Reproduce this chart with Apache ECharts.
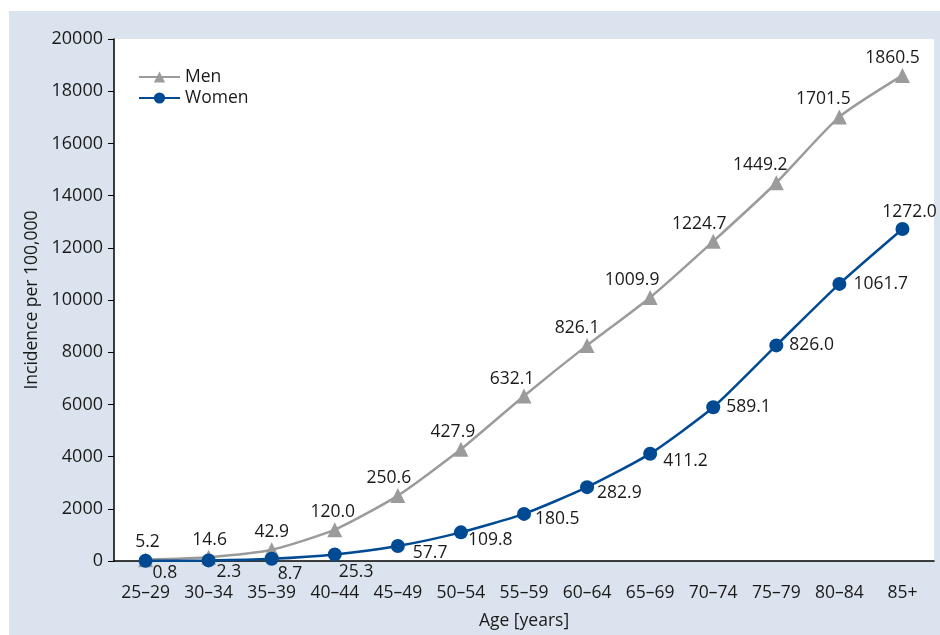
<!DOCTYPE html>
<html>
<head>
<meta charset="utf-8">
<script src="https://cdn.jsdelivr.net/npm/echarts@6/dist/echarts.min.js"></script>
<style>
html,body{margin:0;padding:0;background:#fff;}
#wrap{position:relative;width:940px;height:635px;background:#fff;}
#chart{position:absolute;left:9px;top:11px;width:931px;height:624px;background:#dbe4ee;}
</style>
</head>
<body>
<div id="wrap"><div id="chart"></div></div>
<script>
// Data (plotted values are incidence per 100,000 as on the axis; labels as printed)
var categories = ['25\u201329','30\u201334','35\u201339','40\u201344','45\u201349','50\u201354','55\u201359','60\u201364','65\u201369','70\u201374','75\u201379','80\u201384','85+'];
var menValues = [52, 146, 429, 1200, 2506, 4279, 6321, 8261, 10099, 12247, 14492, 17015, 18605];
var menLabels = ['5.2','14.6','42.9','120.0','250.6','427.9','632.1','826.1','1009.9','1224.7','1449.2','1701.5','1860.5'];
var womenValues = [8, 23, 87, 253, 577, 1098, 1805, 2829, 4112, 5891, 8260, 10617, 12720];
var womenLabels = ['0.8','2.3','8.7','25.3','57.7','109.8','180.5','282.9','411.2','589.1','826.0','1061.7','1272.0'];
var yTicks = [0, 2000, 4000, 6000, 8000, 10000, 12000, 14000, 16000, 18000, 20000];

// label placement (styling only)
var menLabelDx = [2,1,0,-2,-9,-8,-12,-10,-18,-14,-16,-16,-10];
var womenLabelOff = [[0,12],[1,12],[-1,15],[-3,18],[8,7],[0,8],[4,5],[3,6],[6,7],[6,0],[6,0],[7,0]];

var FONT = 'Open Sans';
var FS = 17.5;
var txt = '#1a1a1a';
var MEN = '#9b9b9b', WOMEN = '#004a93';

var menData = menValues.map(function(v, i){
  return {value: v, label: {formatter: menLabels[i], offset: [menLabelDx[i], 0]}};
});
var womenData = womenValues.map(function(v, i){
  if (i === womenValues.length - 1) {
    return {value: v, label: {formatter: womenLabels[i], position: 'top', distance: 1, offset: [7, 0]}};
  }
  return {value: v, label: {formatter: womenLabels[i], position: 'right', distance: 0, offset: womenLabelOff[i]}};
});

var chart = echarts.init(document.getElementById('chart'), null, {renderer: 'canvas'});
chart.setOption({
  animation: false,
  textStyle: {fontFamily: FONT},
  grid: {left: 105, top: 28, width: 820, height: 522, show: true, backgroundColor: '#ffffff', borderWidth: 0},
  legend: {
    orient: 'vertical', left: 124, top: 52, itemWidth: 41, itemHeight: 14, itemGap: 3,
    textStyle: {fontFamily: FONT, fontSize: FS, color: txt, padding: [0,0,0,0]},
    data: ['Men', 'Women']
  },
  xAxis: {
    type: 'category', data: categories, boundaryGap: true,
    name: 'Age [years]', nameLocation: 'middle', nameGap: 51,
    nameTextStyle: {fontFamily: FONT, fontSize: FS, color: txt},
    axisLine: {lineStyle: {color: '#000', width: 1.5}},
    axisTick: {show: false},
    axisLabel: {margin: 23, fontFamily: FONT, fontSize: FS, color: txt, interval: 0},
    splitLine: {show: false}
  },
  yAxis: {
    type: 'value', min: yTicks[0], max: yTicks[yTicks.length-1], interval: 2000,
    name: 'Incidence per 100,000', nameLocation: 'middle', nameGap: 67, nameRotate: 90,
    nameTextStyle: {fontFamily: FONT, fontSize: FS, color: txt},
    axisLine: {show: true, lineStyle: {color: '#000', width: 1.5}},
    axisTick: {show: true, length: 6, lineStyle: {color: '#000', width: 1}},
    axisLabel: {margin: 11, fontFamily: FONT, fontSize: 18, color: txt, formatter: function(v){ return String(v); }},
    splitLine: {show: false}
  },
  series: [
    {
      name: 'Men', type: 'line', data: menData, smooth: 0.2,
      symbol: 'triangle', symbolSize: 15, z: 2,
      lineStyle: {color: MEN, width: 2.5}, itemStyle: {color: MEN},
      label: {show: true, position: 'top', distance: 1, fontFamily: FONT, fontSize: FS, color: txt}
    },
    {
      name: 'Women', type: 'line', data: womenData, smooth: 0.2,
      symbol: 'circle', symbolSize: 14, z: 3,
      lineStyle: {color: WOMEN, width: 2.5}, itemStyle: {color: WOMEN},
      label: {show: true, position: 'right', fontFamily: FONT, fontSize: FS, color: txt}
    }
  ]
});
</script>
</body>
</html>
